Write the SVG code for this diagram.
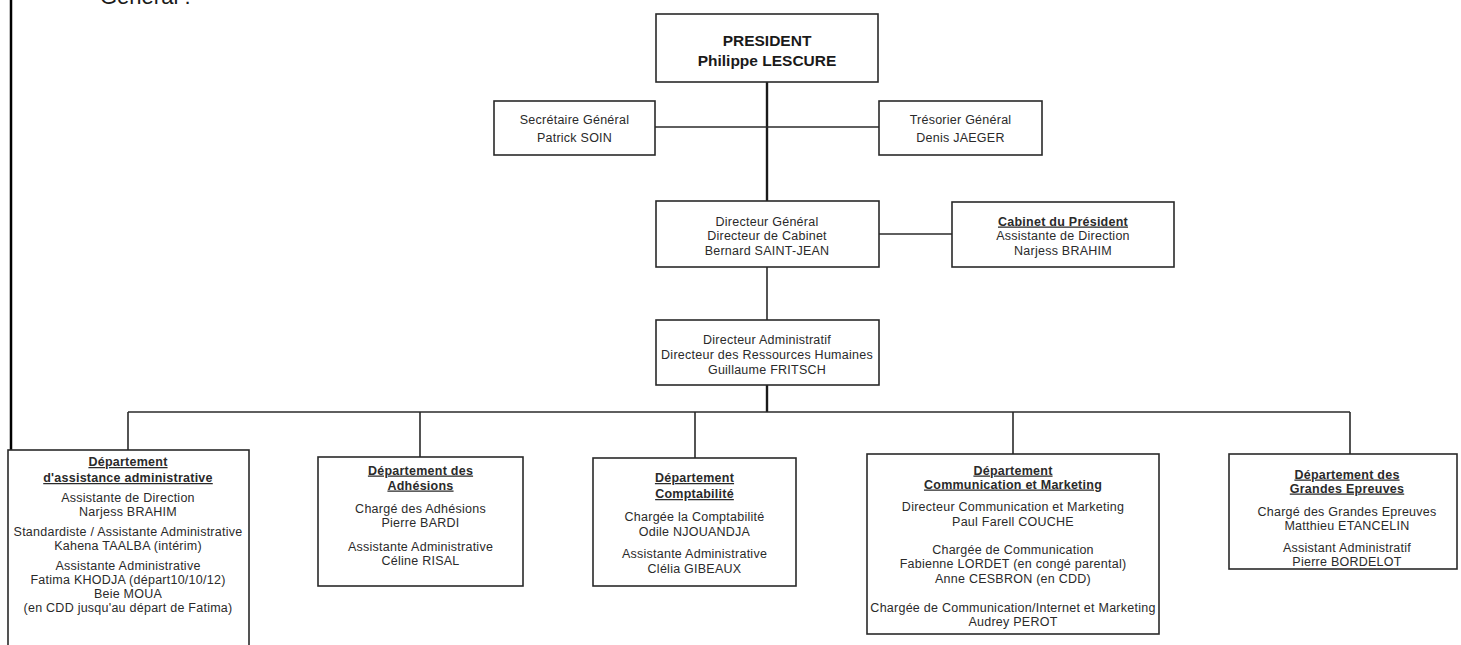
<svg xmlns="http://www.w3.org/2000/svg" width="1461" height="645" viewBox="0 0 1461 645">
<style>
.box{fill:#fff;stroke:#2a2a2a;stroke-width:1.6}
.t{font-family:"Liberation Sans",Arial,sans-serif;font-size:12.5px;letter-spacing:0.25px;fill:#2a2a2a;text-anchor:middle}
.h{font-weight:bold;text-decoration:underline}
.p{font-family:"Liberation Sans",Arial,sans-serif;font-size:15.5px;font-weight:bold;fill:#1a1a1a;text-anchor:middle}
.c{fill:none;stroke:#2a2a2a;stroke-width:1.6}
.ck{fill:none;stroke:#1a1a1a;stroke-width:2.4}
</style>
<rect x="0" y="0" width="1461" height="645" fill="#fff"/>
<line x1="11" y1="0" x2="11" y2="645" stroke="#000" stroke-width="2.5"/>
<text x="100" y="4" font-family="Liberation Sans,Arial,sans-serif" font-size="22" fill="#1a1a1a">Général :</text>

<g id="connectors">
<line class="ck" x1="767" y1="82" x2="767" y2="201"/>
<line class="c" x1="655" y1="127" x2="879" y2="127"/>
<line class="c" x1="879" y1="234" x2="952" y2="234"/>
<line class="c" x1="767" y1="267" x2="767" y2="320"/>
<line class="ck" x1="767" y1="385" x2="767" y2="412"/>
<line class="c" x1="128" y1="412" x2="1350" y2="412"/>
<line class="c" x1="128" y1="412" x2="128" y2="450"/>
<line class="c" x1="420" y1="412" x2="420" y2="457"/>
<line class="c" x1="695" y1="412" x2="695" y2="458"/>
<line class="c" x1="1013" y1="412" x2="1013" y2="454"/>
<line class="c" x1="1350" y1="412" x2="1350" y2="454"/>
</g>

<g id="president">
<rect class="box" x="656" y="14" width="222" height="68"/>
<text class="p" x="767" y="46">PRESIDENT</text>
<text class="p" x="767" y="66">Philippe LESCURE</text>
</g>

<g id="secretaire">
<rect class="box" x="494" y="101" width="161" height="54"/>
<text class="t" x="574.5" y="123.5">Secrétaire Général</text>
<text class="t" x="574.5" y="141.5">Patrick SOIN</text>
</g>

<g id="tresorier">
<rect class="box" x="879" y="101" width="163" height="54"/>
<text class="t" x="960.5" y="123.5">Trésorier Général</text>
<text class="t" x="960.5" y="141.5">Denis JAEGER</text>
</g>

<g id="directeur-general">
<rect class="box" x="656" y="201" width="223" height="66"/>
<text class="t" x="767" y="225.5">Directeur Général</text>
<text class="t" x="767" y="239.5">Directeur de Cabinet</text>
<text class="t" x="767" y="254.5">Bernard SAINT-JEAN</text>
</g>

<g id="cabinet">
<rect class="box" x="952" y="202" width="222" height="65"/>
<text class="t h" x="1063" y="225.5">Cabinet du Président</text>
<text class="t" x="1063" y="239.5">Assistante de Direction</text>
<text class="t" x="1063" y="254.5">Narjess BRAHIM</text>
</g>

<g id="directeur-administratif">
<rect class="box" x="656" y="320" width="223" height="65"/>
<text class="t" x="767" y="343.5">Directeur Administratif</text>
<text class="t" x="767" y="358.5">Directeur des Ressources Humaines</text>
<text class="t" x="767" y="373.5">Guillaume FRITSCH</text>
</g>

<g id="dept-assistance">
<rect class="box" x="8" y="450" width="241" height="205"/>
<text class="t h" x="128" y="466">Département</text>
<text class="t h" x="128" y="482">d'assistance administrative</text>
<text class="t" x="128" y="502">Assistante de Direction</text>
<text class="t" x="128" y="516">Narjess BRAHIM</text>
<text class="t" x="128" y="536">Standardiste / Assistante Administrative</text>
<text class="t" x="128" y="550">Kahena TAALBA (intérim)</text>
<text class="t" x="128" y="569.5">Assistante Administrative</text>
<text class="t" x="128" y="584">Fatima KHODJA (départ10/10/12)</text>
<text class="t" x="128" y="598">Beie MOUA</text>
<text class="t" x="128" y="612">(en CDD jusqu'au départ de Fatima)</text>
</g>

<g id="dept-adhesions">
<rect class="box" x="318" y="457" width="205" height="129"/>
<text class="t h" x="420.5" y="474.5">Département des</text>
<text class="t h" x="420.5" y="489.5">Adhésions</text>
<text class="t" x="420.5" y="512.5">Chargé des Adhésions</text>
<text class="t" x="420.5" y="526.5">Pierre  BARDI</text>
<text class="t" x="420.5" y="550.5">Assistante Administrative</text>
<text class="t" x="420.5" y="564.5">Céline RISAL</text>
</g>

<g id="dept-comptabilite">
<rect class="box" x="593" y="458" width="203" height="128"/>
<text class="t h" x="694.5" y="482">Département</text>
<text class="t h" x="694.5" y="498">Comptabilité</text>
<text class="t" x="694.5" y="520.5">Chargée la Comptabilité</text>
<text class="t" x="694.5" y="535.5">Odile NJOUANDJA</text>
<text class="t" x="694.5" y="558">Assistante Administrative</text>
<text class="t" x="694.5" y="572.5">Clélia GIBEAUX</text>
</g>

<g id="dept-communication">
<rect class="box" x="867" y="454" width="292" height="180"/>
<text class="t h" x="1013" y="474.5">Département</text>
<text class="t h" x="1013" y="488.5">Communication et Marketing</text>
<text class="t" x="1013" y="510.5">Directeur Communication et Marketing</text>
<text class="t" x="1013" y="525.5">Paul Farell COUCHE</text>
<text class="t" x="1013" y="553.5">Chargée de Communication</text>
<text class="t" x="1013" y="567.5">Fabienne LORDET (en congé parental)</text>
<text class="t" x="1013" y="582.5">Anne CESBRON (en CDD)</text>
<text class="t" x="1013" y="611.5">Chargée de Communication/Internet et Marketing</text>
<text class="t" x="1013" y="625.5">Audrey PEROT</text>
</g>

<g id="dept-grandes-epreuves">
<rect class="box" x="1229" y="454" width="228" height="115"/>
<text class="t h" x="1347" y="478.5">Département des</text>
<text class="t h" x="1347" y="492.5">Grandes Epreuves</text>
<text class="t" x="1347" y="515.5">Chargé des Grandes Epreuves</text>
<text class="t" x="1347" y="529.5">Matthieu ETANCELIN</text>
<text class="t" x="1347" y="551.5">Assistant Administratif</text>
<text class="t" x="1347" y="565.5">Pierre BORDELOT</text>
</g>
</svg>
